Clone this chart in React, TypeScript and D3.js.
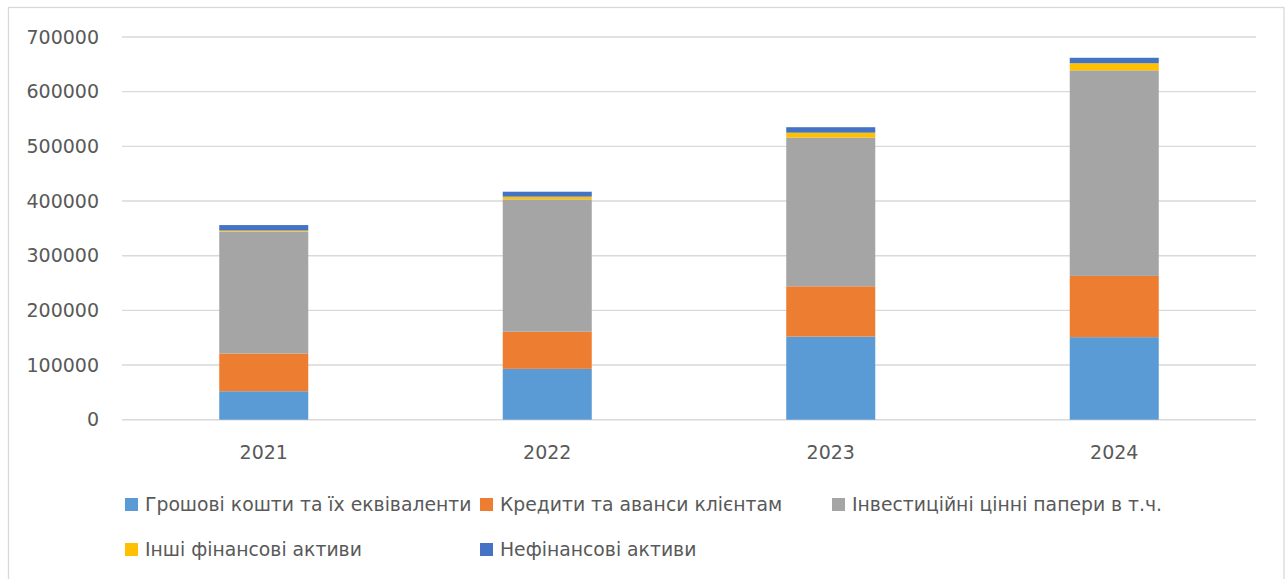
import React from "react";
import * as d3 from "d3";

const years = ["2021", "2022", "2023", "2024"];
const seriesNames = [
  "Грошові кошти та їх еквіваленти",
  "Кредити та аванси клієнтам",
  "Інвестиційні цінні папери в т.ч.",
  "Інші фінансові активи",
  "Нефінансові активи",
];
const cash = [52000, 93000, 152000, 151000];
const loans = [69000, 68000, 92000, 112000];
const securities = [223000, 242000, 272000, 376000];
const otherFin = [2000, 5000, 9000, 13000];
const nonFin = [10000, 9000, 10000, 10000];
const colors = ["#5B9BD5", "#ED7D31", "#A5A5A5", "#FFC000", "#4472C4"];
const yTicks = [0, 100000, 200000, 300000, 400000, 500000, 600000, 700000];

const W = 1287;
const H = 579;
const FONT = "'DejaVu Sans', sans-serif";
const TEXT = "#595959";

export default function App() {
  const seriesValues = [cash, loans, securities, otherFin, nonFin];
  const rows = years.map((y, i) => {
    const r: Record<string, number | string> = { year: y };
    seriesNames.forEach((n, k) => (r[n] = seriesValues[k][i]));
    return r;
  });
  const stack = d3.stack<any>().keys(seriesNames)(rows as any);

  const x = d3.scaleBand<string>().domain(years).range([122, 1256]).padding(0);
  const y = d3.scaleLinear().domain([0, 700000]).range([419.7, 37]);
  const barW = x.bandwidth() * 0.314;

  const legendItems = [
    { i: 0, x: 125, y: 504.5 },
    { i: 1, x: 480, y: 504.5 },
    { i: 2, x: 832, y: 504.5 },
    { i: 3, x: 125, y: 549.5 },
    { i: 4, x: 480, y: 549.5 },
  ];

  return (
    <svg
      width={W}
      height={H}
      style={{ position: "absolute", left: 0, top: 0, background: "#fff" }}
      fontFamily={FONT}
    >
      <rect x={8.5} y={7.5} width={1275.5} height={620} fill="#fff" stroke="#d9d9d9" strokeWidth={1.3} />
      {yTicks.map((t) => (
        <g key={t}>
          <line x1={122} x2={1256} y1={y(t)} y2={y(t)} stroke="#d9d9d9" strokeWidth={1.4} />
          <text x={99} y={y(t)} dy="0.35em" textAnchor="end" fontSize={19} fill={TEXT}>
            {t}
          </text>
        </g>
      ))}
      {stack.map((s, k) => (
        <g key={k} fill={colors[k]}>
          {s.map((d, i) => (
            <rect
              key={i}
              x={(x(years[i]) as number) + x.bandwidth() / 2 - barW / 2}
              y={y(d[1])}
              width={barW}
              height={y(d[0]) - y(d[1])}
            />
          ))}
        </g>
      ))}
      {years.map((yr) => (
        <text
          key={yr}
          x={(x(yr) as number) + x.bandwidth() / 2}
          y={452}
          dy="0.35em"
          textAnchor="middle"
          fontSize={19}
          fill={TEXT}
        >
          {yr}
        </text>
      ))}
      {legendItems.map((l) => (
        <g key={l.i}>
          <rect x={l.x} y={l.y - 6.5} width={13} height={13} fill={colors[l.i]} />
          <text x={l.x + 20} y={l.y} dy="0.35em" fontSize={18.8} fill={TEXT}>
            {seriesNames[l.i]}
          </text>
        </g>
      ))}
    </svg>
  );
}
